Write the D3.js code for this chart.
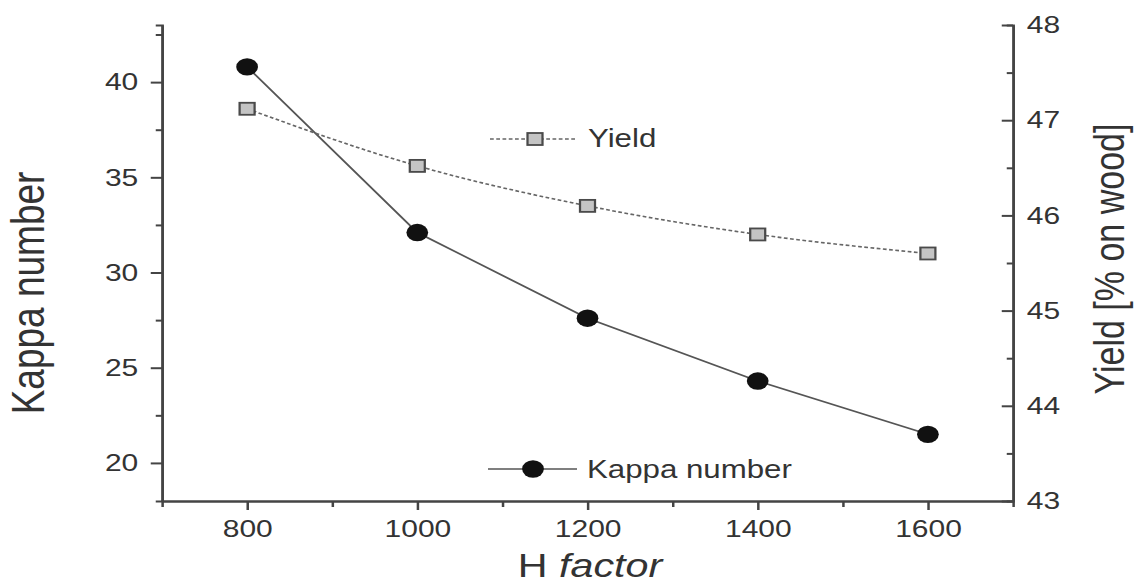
<!DOCTYPE html>
<html>
<head>
<meta charset="utf-8">
<script src="https://cdn.jsdelivr.net/npm/d3@7"></script>
<style>
  body { margin: 0; background: #fff; }
  text { font-family: "Liberation Sans", Arial, sans-serif; fill: #333; }
</style>
</head>
<body>
<svg id="chart" width="1137" height="587"></svg>
<script>
// data
const hFactor = [800, 1000, 1200, 1400, 1600];
const kappa = [40.8, 32.1, 27.6, 24.3, 21.5];
const yieldPct = [47.12, 46.52, 46.1, 45.8, 45.6];
const xTicks = [800, 1000, 1200, 1400, 1600];
const xMinor = [900, 1100, 1300, 1500];
const kappaTicks = [20, 25, 30, 35, 40];
const kappaMinor = [22.5, 27.5, 32.5, 37.5, 42.5];
const yieldTicks = [43, 44, 45, 46, 47, 48];
const yieldMinor = [43.5, 44.5, 45.5, 46.5, 47.5];

// the original figure is stretched sideways, so draw everything in a scaled group
const sx = 1.25;
const X = v => v / sx; // page x -> group x

const svg = d3.select("#chart");
const root = svg.append("g").attr("transform", `scale(${sx},1)`);

const plotL = X(162), plotR = X(1013), plotT = 25, plotB = 501;

const x = d3.scaleLinear().domain([700, 1700]).range([plotL, plotR]);
const yK = d3.scaleLinear().domain([18, 43]).range([plotB, plotT]);
const yY = d3.scaleLinear().domain([43, 48]).range([plotB, plotT]);

function styleAxis(g) {
  g.selectAll("path, line").attr("stroke", "#444").attr("stroke-width", 2);
  g.selectAll("text").attr("font-size", 24).attr("fill", "#333")
    .attr("font-family", "Liberation Sans, Arial, sans-serif");
}

// bottom axis
root.append("g").attr("transform", `translate(0,${plotB})`)
  .call(d3.axisBottom(x).tickValues(xMinor).tickSize(6).tickFormat(""))
  .call(styleAxis);
root.append("g").attr("transform", `translate(0,${plotB})`)
  .call(d3.axisBottom(x).tickValues(xTicks).tickSize(9).tickSizeOuter(0)
    .tickPadding(10).tickFormat(d3.format("d")))
  .call(styleAxis);

// left axis
root.append("g").attr("transform", `translate(${plotL},0)`)
  .call(d3.axisLeft(yK).tickValues(kappaMinor).tickSize(5).tickFormat(""))
  .call(styleAxis);
root.append("g").attr("transform", `translate(${plotL},0)`)
  .call(d3.axisLeft(yK).tickValues(kappaTicks).tickSize(9).tickSizeOuter(0)
    .tickPadding(10).tickFormat(d3.format("d")))
  .call(styleAxis);

// right axis: ticks point into the plot
root.append("g").attr("transform", `translate(${plotR},0)`)
  .call(d3.axisRight(yY).tickValues(yieldMinor).tickSize(-5).tickFormat(""))
  .call(styleAxis);
root.append("g").attr("transform", `translate(${plotR},0)`)
  .call(d3.axisRight(yY).tickValues(yieldTicks).tickSize(-9).tickSizeOuter(0)
    .tickPadding(11).tickFormat(d3.format("d")))
  .call(styleAxis);

// series lines
const kappaPts = hFactor.map((h, i) => [h, kappa[i]]);
const yieldPts = hFactor.map((h, i) => [h, yieldPct[i]]);

root.append("path").datum(kappaPts)
  .attr("fill", "none").attr("stroke", "#555").attr("stroke-width", 1.6)
  .attr("d", d3.line().x(d => x(d[0])).y(d => yK(d[1])));

root.append("path").datum(yieldPts)
  .attr("fill", "none").attr("stroke", "#666").attr("stroke-width", 1.6)
  .attr("stroke-dasharray", "3,2")
  .attr("d", d3.line().curve(d3.curveMonotoneX).x(d => x(d[0])).y(d => yY(d[1])));

// markers
root.append("g").selectAll("rect").data(yieldPts)
  .join("rect")
  .attr("x", d => x(d[0]) - 6).attr("y", d => yY(d[1]) - 6)
  .attr("width", 12).attr("height", 12)
  .attr("fill", "#c4c4c4").attr("stroke", "#4a4a4a").attr("stroke-width", 1.8);

root.append("g").selectAll("circle").data(kappaPts)
  .join("circle")
  .attr("cx", d => x(d[0])).attr("cy", d => yK(d[1]))
  .attr("r", 8.7).attr("fill", "#111");

// legend
const lg = root.append("g");
lg.append("line").attr("x1", X(490)).attr("x2", X(575)).attr("y1", 139).attr("y2", 139)
  .attr("stroke", "#666").attr("stroke-width", 1.6).attr("stroke-dasharray", "3,2");
lg.append("rect").attr("x", X(535) - 6).attr("y", 133).attr("width", 12).attr("height", 12)
  .attr("fill", "#c4c4c4").attr("stroke", "#4a4a4a").attr("stroke-width", 1.8);
lg.append("text").attr("x", X(588)).attr("y", 147).attr("font-size", 25).text("Yield");

lg.append("line").attr("x1", X(488)).attr("x2", X(577)).attr("y1", 469).attr("y2", 469)
  .attr("stroke", "#555").attr("stroke-width", 1.6);
lg.append("circle").attr("cx", X(533)).attr("cy", 469).attr("r", 8.7).attr("fill", "#111");
lg.append("text").attr("x", X(587)).attr("y", 478).attr("font-size", 25).text("Kappa number");

// axis titles
root.append("text").attr("transform", `translate(${X(44)},293) rotate(-90)`)
  .attr("text-anchor", "middle").attr("font-size", 37).text("Kappa number");
root.append("text").attr("transform", `translate(${X(1124)},259) rotate(-90)`)
  .attr("text-anchor", "middle").attr("font-size", 34).text("Yield [% on wood]");
const xt = root.append("text").attr("x", X(590)).attr("y", 577)
  .attr("text-anchor", "middle").attr("font-size", 33);
xt.append("tspan").text("H ");
xt.append("tspan").attr("font-style", "italic").text("factor");
</script>
</body>
</html>
